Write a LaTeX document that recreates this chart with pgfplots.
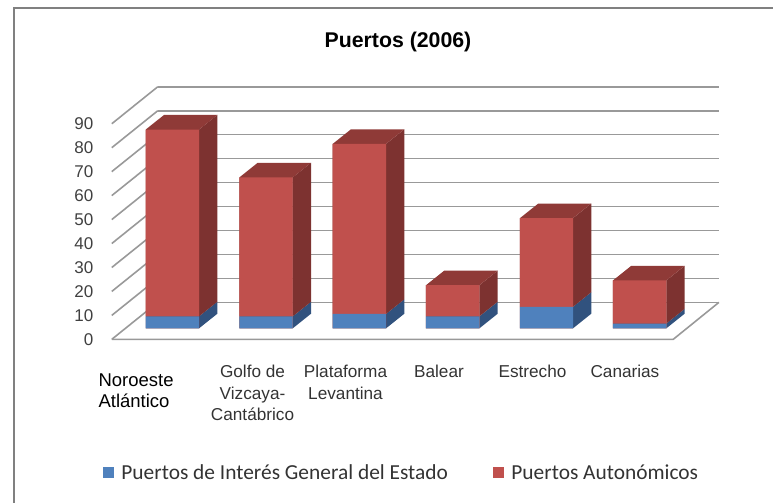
\documentclass[border=0pt]{standalone}
\usepackage{pgfplots}
\pgfplotsset{compat=1.18}
\usepackage{fontspec}
\setmainfont{Liberation Sans}
\newfontfamily\legfont{Carlito}
\definecolor{barblue}{HTML}{4F81BD}
\definecolor{barred}{HTML}{C0504D}
\definecolor{blueside}{HTML}{31527E}
\definecolor{redside}{HTML}{7D3230}
\definecolor{redtop}{HTML}{8F3A37}
\definecolor{gridc}{HTML}{999999}
\pgfplotsset{
  canvas/.style={
    scale only axis, width=773pt, height=503pt,
    xmin=0, xmax=773, ymin=-72.9, ymax=137.03,
    clip=true,
  },
  gl/.style={draw=gridc, line width=1.6pt, no markers, forget plot},
  rs/.style={fill=redside, draw=none, no markers, forget plot},
  bs/.style={fill=blueside, draw=none, no markers, forget plot},
  rt/.style={fill=redtop, draw=none, no markers, forget plot},
}
\begin{document}
\begin{tikzpicture}
\begin{axis}[canvas,
  axis line style={draw=none},
  major tick length=0pt,
  ytick={-4.59,5.41,15.41,25.41,35.41,45.41,55.41,65.41,75.41,85.41},
  yticklabels={0,10,20,30,40,50,60,70,80,90},
  yticklabel style={anchor=east, xshift=93.5pt, font=\fontsize{17}{17}\selectfont, text=black!75, inner sep=0pt},
  xtick={136,252.5,345.5,439,532.5,625},
  xticklabels={{\rule{0pt}{21pt}\fontsize{18.5}{22}\selectfont\color{black}Noroeste\\\fontsize{18.5}{22}\selectfont\color{black}Atlántico\hspace*{4pt}\mbox{}},{Golfo de\\Vizcaya-\\Cantábrico},{Plataforma\\Levantina},{Balear},{Estrecho},{Canarias}},
  xticklabel style={anchor=north, align=center, yshift=138pt, inner sep=0pt,
    font=\fontsize{17.2}{21.5}\selectfont, text=black!80},
  title={\textbf{Puertos (2006)}},
  title style={at={(398/773,1-40/503)}, anchor=center, yshift=-8pt, font=\fontsize{21.3}{21.3}\selectfont},
]
% frame
\addplot[draw=black!50, line width=2pt, no markers, forget plot] coordinates {(14,-72.9) (14,133.7) (773,133.7)};
% floor
\addplot[gl] coordinates {(111.7,-4.59) (673.3,-4.59) (719,10.85)};
% walls
\addplot[gl] coordinates {(157.7,10.85) (719,10.85)};
\addplot[gl] coordinates {(157.7,20.85) (719,20.85)};
\addplot[gl] coordinates {(157.7,30.85) (719,30.85)};
\addplot[gl] coordinates {(157.7,40.85) (719,40.85)};
\addplot[gl] coordinates {(157.7,50.85) (719,50.85)};
\addplot[gl] coordinates {(157.7,60.85) (719,60.85)};
\addplot[gl] coordinates {(157.7,70.85) (719,70.85)};
\addplot[gl] coordinates {(157.7,80.85) (719,80.85)};
\addplot[gl] coordinates {(157.7,90.85) (719,90.85)};
\addplot[gl] coordinates {(157.7,100.85) (719,100.85)};
\addplot[gl] coordinates {(111.7,-4.59) (157.7,10.85)};
\addplot[gl] coordinates {(111.7,5.41) (157.7,20.85)};
\addplot[gl] coordinates {(111.7,15.41) (157.7,30.85)};
\addplot[gl] coordinates {(111.7,25.41) (157.7,40.85)};
\addplot[gl] coordinates {(111.7,35.41) (157.7,50.85)};
\addplot[gl] coordinates {(111.7,45.41) (157.7,60.85)};
\addplot[gl] coordinates {(111.7,55.41) (157.7,70.85)};
\addplot[gl] coordinates {(111.7,65.41) (157.7,80.85)};
\addplot[gl] coordinates {(111.7,75.41) (157.7,90.85)};
\addplot[gl] coordinates {(111.7,85.41) (157.7,100.85)};
% bar 1
\addplot[bs] coordinates {(199,0) (217.3,6.1) (217.3,11.1) (199,5)} \closedcycle;
\addplot[rs] coordinates {(199,5) (217.3,11.1) (217.3,89.1) (199,83)} \closedcycle;
\addplot[rt] coordinates {(145.7,83) (164,89.1) (217.3,89.1) (199,83)} \closedcycle;
% bar 2
\addplot[bs] coordinates {(292.7,0) (311,6.1) (311,11.1) (292.7,5)} \closedcycle;
\addplot[rs] coordinates {(292.7,5) (311,11.1) (311,69.1) (292.7,63)} \closedcycle;
\addplot[rt] coordinates {(239.3,63) (257.6,69.1) (311,69.1) (292.7,63)} \closedcycle;
% bar 3
\addplot[bs] coordinates {(386,0) (404.3,6.1) (404.3,12.1) (386,6)} \closedcycle;
\addplot[rs] coordinates {(386,6) (404.3,12.1) (404.3,83.1) (386,77)} \closedcycle;
\addplot[rt] coordinates {(332.7,77) (351,83.1) (404.3,83.1) (386,77)} \closedcycle;
% bar 4
\addplot[bs] coordinates {(479.4,0) (497.7,6.1) (497.7,11.1) (479.4,5)} \closedcycle;
\addplot[rs] coordinates {(479.4,5) (497.7,11.1) (497.7,24.1) (479.4,18)} \closedcycle;
\addplot[rt] coordinates {(426,18) (444.3,24.1) (497.7,24.1) (479.4,18)} \closedcycle;
% bar 5
\addplot[bs] coordinates {(573,0) (591.3,6.1) (591.3,15.1) (573,9)} \closedcycle;
\addplot[rs] coordinates {(573,9) (591.3,15.1) (591.3,52.1) (573,46)} \closedcycle;
\addplot[rt] coordinates {(520,46) (538.3,52.1) (591.3,52.1) (573,46)} \closedcycle;
% bar 6
\addplot[bs] coordinates {(666.4,0) (684.7,6.1) (684.7,8.1) (666.4,2)} \closedcycle;
\addplot[rs] coordinates {(666.4,2) (684.7,8.1) (684.7,26.1) (666.4,20)} \closedcycle;
\addplot[rt] coordinates {(613,20) (631.3,26.1) (684.7,26.1) (666.4,20)} \closedcycle;
\end{axis}
\begin{axis}[canvas,
  axis lines=none,
  ybar stacked, bar width=53.4pt,
  legend columns=2,
  legend cell align=left,
  legend style={draw=none, fill=none, at={(401.5/773,1-473/503)}, anchor=center,
    font=\legfont\fontsize{21.4}{21.4}\selectfont, text=black!80,
    /tikz/every even column/.style={column sep=43pt},
    inner sep=0pt},
  legend image code/.code={\path (0pt,0pt) (16.5pt,0pt); \fill[#1] (0pt,-5.5pt) rectangle (11.5pt,5.5pt);},
]
\addplot[fill=barblue, draw=none] coordinates {(172.35,5) (266,5) (359.35,6) (452.7,5) (546.5,9) (639.7,2)};
\addplot[fill=barred, draw=none] coordinates {(172.35,78) (266,58) (359.35,71) (452.7,13) (546.5,37) (639.7,18)};
\legend{Puertos de Interés General del Estado, Puertos Autonómicos}
\end{axis}
\end{tikzpicture}
\end{document}
